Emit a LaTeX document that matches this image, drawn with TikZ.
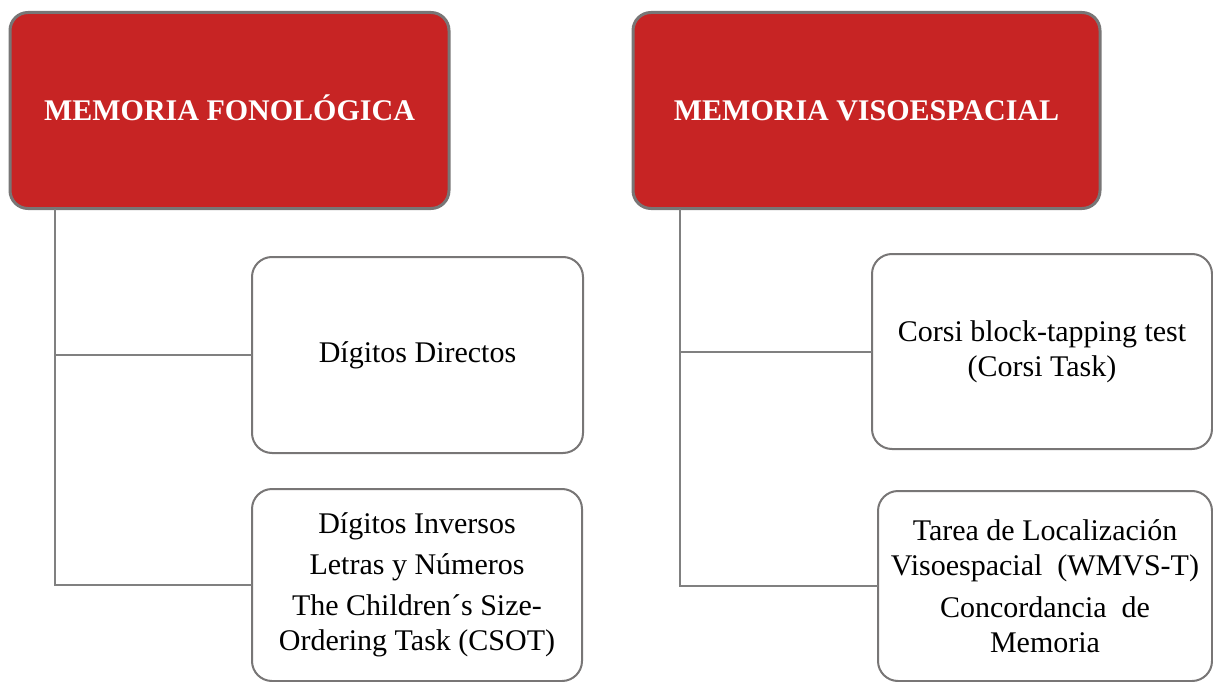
\documentclass[tikz,border=0pt]{standalone}
\usepackage{fontspec}
\setmainfont{Liberation Serif}
\definecolor{headred}{RGB}{199,36,36}
\definecolor{edgegray}{RGB}{120,118,118}
\definecolor{linkgray}{RGB}{128,128,128}
\begin{document}
\begin{tikzpicture}[x=1pt,y=-1pt,
  headbox/.style={rectangle, rounded corners=18pt, draw=edgegray, line width=3pt,
    fill=headred, text=white, inner sep=0pt, outer sep=0pt, align=center,
    font=\bfseries\fontsize{30}{36}\selectfont},
  itembox/.style={rectangle, rounded corners=20pt, draw=edgegray, line width=2pt,
    fill=white, inner sep=0pt, outer sep=0pt, align=center,
    font=\fontsize{30}{35}\selectfont},
  link/.style={draw=linkgray, line width=2pt}]
\useasboundingbox (0,0) rectangle (1213,682);

% left column: phonological memory
\node[headbox, minimum width=439pt, minimum height=196pt] (fon) at (229.5,110.5) {MEMORIA FONOL\smash{Ó}GICA};
\node[itembox, minimum width=331pt, minimum height=196pt] (dd) at (417.5,355) {Dígitos Directos};
\node[itembox, minimum width=330pt, minimum height=192pt] (di) at (417,585)
  {Dígitos Inversos\\[6pt] Letras y Números\\[6pt] The Children´s Size-\\ Ordering Task (CSOT)};

% right column: visuospatial memory
\node[headbox, minimum width=467pt, minimum height=196pt] (vis) at (866.5,110.5) {MEMORIA VISOESPACIAL};
\node[itembox, minimum width=340pt, minimum height=195pt] (cor) at (1042,351.5)
  {Corsi block-tapping test\\ (Corsi Task)};
\node[itembox, minimum width=334pt, minimum height=190pt] (loc) at (1045,586)
  {Tarea de Localización\\ Visoespacial \ (WMVS-T)\\[7pt] Concordancia \ de\\ Memoria};

% tree connectors
\draw[link] ([xshift=45pt]fon.south west) |- (dd.west);
\draw[link] ([xshift=45pt]fon.south west) |- (di.west);
\draw[link] ([xshift=47pt]vis.south west) |- (cor.west);
\draw[link] ([xshift=47pt]vis.south west) |- (loc.west);
\end{tikzpicture}
\end{document}
